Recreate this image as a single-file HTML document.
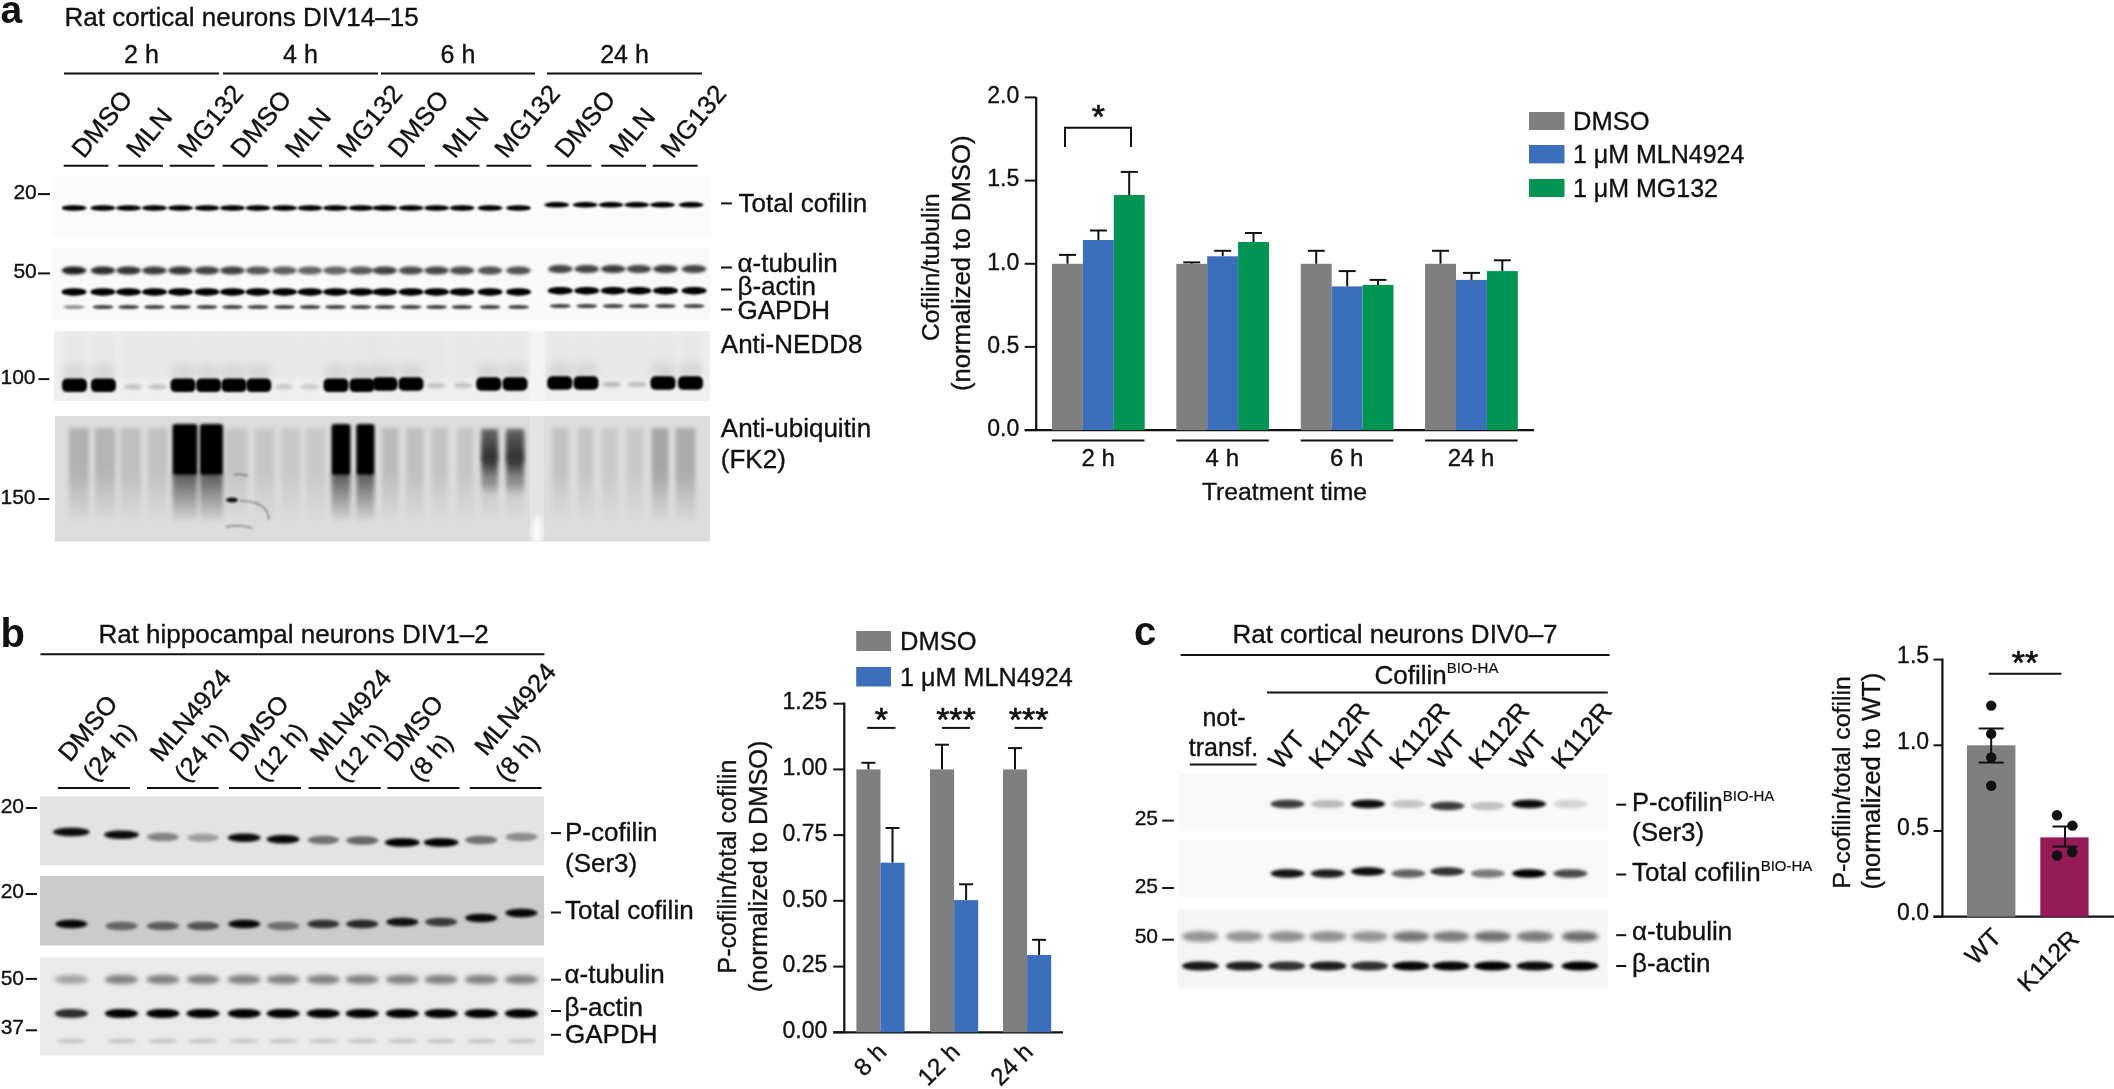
<!DOCTYPE html>
<html><head><meta charset="utf-8"><title>figure</title><style>
html,body{margin:0;padding:0;background:#fff;overflow:hidden;}
svg{display:block;font-family:"Liberation Sans", sans-serif;will-change:transform;}
</style></head><body>
<svg width="2114" height="1089" viewBox="0 0 2114 1089">
<defs><filter id="f8" x="-50%" y="-50%" width="200%" height="200%"><feGaussianBlur stdDeviation="0.8"/></filter><filter id="f10" x="-50%" y="-50%" width="200%" height="200%"><feGaussianBlur stdDeviation="1.0"/></filter><filter id="f12" x="-50%" y="-50%" width="200%" height="200%"><feGaussianBlur stdDeviation="1.2"/></filter><filter id="f13" x="-50%" y="-50%" width="200%" height="200%"><feGaussianBlur stdDeviation="1.3"/></filter><filter id="f14" x="-50%" y="-50%" width="200%" height="200%"><feGaussianBlur stdDeviation="1.4"/></filter><filter id="f15" x="-50%" y="-50%" width="200%" height="200%"><feGaussianBlur stdDeviation="1.5"/></filter><filter id="f16" x="-50%" y="-50%" width="200%" height="200%"><feGaussianBlur stdDeviation="1.6"/></filter><filter id="f18" x="-50%" y="-50%" width="200%" height="200%"><feGaussianBlur stdDeviation="1.8"/></filter><filter id="f20" x="-50%" y="-50%" width="200%" height="200%"><feGaussianBlur stdDeviation="2.0"/></filter><filter id="f25" x="-50%" y="-50%" width="200%" height="200%"><feGaussianBlur stdDeviation="2.5"/></filter><filter id="f30" x="-50%" y="-50%" width="200%" height="200%"><feGaussianBlur stdDeviation="3.0"/></filter><filter id="f40" x="-50%" y="-50%" width="200%" height="200%"><feGaussianBlur stdDeviation="4.0"/></filter><linearGradient id="gdown" x1="0" y1="0" x2="0" y2="1"><stop offset="0" stop-color="#000" stop-opacity="1"/><stop offset="1" stop-color="#000" stop-opacity="0"/></linearGradient><linearGradient id="gup" x1="0" y1="0" x2="0" y2="1"><stop offset="0" stop-color="#000" stop-opacity="0"/><stop offset="1" stop-color="#000" stop-opacity="1"/></linearGradient></defs>
<text x="0.6" y="23.2" font-size="39" text-anchor="start" font-weight="bold" fill="#111">a</text>
<text x="64.5" y="25.5" font-size="26" text-anchor="start" font-weight="normal" fill="#111" stroke="#111" stroke-width="0.35">Rat cortical neurons DIV14–15</text>
<text x="141.5" y="63.0" font-size="25" text-anchor="middle" font-weight="normal" fill="#111" stroke="#111" stroke-width="0.35">2 h</text>
<line x1="64.0" y1="73.5" x2="219.0" y2="73.5" stroke="#111" stroke-width="2"/>
<text x="300.5" y="63.0" font-size="25" text-anchor="middle" font-weight="normal" fill="#111" stroke="#111" stroke-width="0.35">4 h</text>
<line x1="223.0" y1="73.5" x2="378.0" y2="73.5" stroke="#111" stroke-width="2"/>
<text x="458.0" y="63.0" font-size="25" text-anchor="middle" font-weight="normal" fill="#111" stroke="#111" stroke-width="0.35">6 h</text>
<line x1="381.0" y1="73.5" x2="535.0" y2="73.5" stroke="#111" stroke-width="2"/>
<text x="624.5" y="63.0" font-size="25" text-anchor="middle" font-weight="normal" fill="#111" stroke="#111" stroke-width="0.35">24 h</text>
<line x1="547.0" y1="73.5" x2="702.0" y2="73.5" stroke="#111" stroke-width="2"/>
<line x1="63.7" y1="165.8" x2="108.5" y2="165.8" stroke="#111" stroke-width="2.1"/>
<text x="83.7" y="159.5" font-size="26" text-anchor="start" font-weight="normal" fill="#111" stroke="#111" stroke-width="0.35" transform="rotate(-50 83.7 159.5)">DMSO</text>
<line x1="118.3" y1="165.8" x2="163.0" y2="165.8" stroke="#111" stroke-width="2.1"/>
<text x="138.3" y="159.5" font-size="26" text-anchor="start" font-weight="normal" fill="#111" stroke="#111" stroke-width="0.35" transform="rotate(-50 138.3 159.5)">MLN</text>
<line x1="169.8" y1="165.8" x2="214.6" y2="165.8" stroke="#111" stroke-width="2.1"/>
<text x="189.8" y="159.5" font-size="26" text-anchor="start" font-weight="normal" fill="#111" stroke="#111" stroke-width="0.35" transform="rotate(-50 189.8 159.5)">MG132</text>
<line x1="222.6" y1="165.8" x2="267.8" y2="165.8" stroke="#111" stroke-width="2.1"/>
<text x="242.6" y="159.5" font-size="26" text-anchor="start" font-weight="normal" fill="#111" stroke="#111" stroke-width="0.35" transform="rotate(-50 242.6 159.5)">DMSO</text>
<line x1="277.0" y1="165.8" x2="322.0" y2="165.8" stroke="#111" stroke-width="2.1"/>
<text x="297.0" y="159.5" font-size="26" text-anchor="start" font-weight="normal" fill="#111" stroke="#111" stroke-width="0.35" transform="rotate(-50 297.0 159.5)">MLN</text>
<line x1="329.0" y1="165.8" x2="373.8" y2="165.8" stroke="#111" stroke-width="2.1"/>
<text x="349.0" y="159.5" font-size="26" text-anchor="start" font-weight="normal" fill="#111" stroke="#111" stroke-width="0.35" transform="rotate(-50 349.0 159.5)">MG132</text>
<line x1="380.0" y1="165.8" x2="425.0" y2="165.8" stroke="#111" stroke-width="2.1"/>
<text x="400.0" y="159.5" font-size="26" text-anchor="start" font-weight="normal" fill="#111" stroke="#111" stroke-width="0.35" transform="rotate(-50 400.0 159.5)">DMSO</text>
<line x1="434.7" y1="165.8" x2="479.5" y2="165.8" stroke="#111" stroke-width="2.1"/>
<text x="454.7" y="159.5" font-size="26" text-anchor="start" font-weight="normal" fill="#111" stroke="#111" stroke-width="0.35" transform="rotate(-50 454.7 159.5)">MLN</text>
<line x1="486.5" y1="165.8" x2="531.3" y2="165.8" stroke="#111" stroke-width="2.1"/>
<text x="506.5" y="159.5" font-size="26" text-anchor="start" font-weight="normal" fill="#111" stroke="#111" stroke-width="0.35" transform="rotate(-50 506.5 159.5)">MG132</text>
<line x1="546.7" y1="165.8" x2="591.5" y2="165.8" stroke="#111" stroke-width="2.1"/>
<text x="566.7" y="159.5" font-size="26" text-anchor="start" font-weight="normal" fill="#111" stroke="#111" stroke-width="0.35" transform="rotate(-50 566.7 159.5)">DMSO</text>
<line x1="601.3" y1="165.8" x2="646.0" y2="165.8" stroke="#111" stroke-width="2.1"/>
<text x="621.3" y="159.5" font-size="26" text-anchor="start" font-weight="normal" fill="#111" stroke="#111" stroke-width="0.35" transform="rotate(-50 621.3 159.5)">MLN</text>
<line x1="652.8" y1="165.8" x2="697.6" y2="165.8" stroke="#111" stroke-width="2.1"/>
<text x="672.8" y="159.5" font-size="26" text-anchor="start" font-weight="normal" fill="#111" stroke="#111" stroke-width="0.35" transform="rotate(-50 672.8 159.5)">MG132</text>
<rect x="52.0" y="176.0" width="658.0" height="61.5" fill="#fbfbfb"/>
<rect x="61.4" y="205.2" width="25.3" height="5.5" rx="11.5" ry="2.8" fill="#000" fill-opacity="1.000" filter="url(#f13)"/>
<rect x="90.3" y="205.2" width="25.3" height="5.5" rx="11.5" ry="2.8" fill="#000" fill-opacity="1.000" filter="url(#f13)"/>
<rect x="115.9" y="205.2" width="25.3" height="5.5" rx="11.5" ry="2.8" fill="#000" fill-opacity="1.000" filter="url(#f13)"/>
<rect x="141.8" y="205.2" width="25.3" height="5.5" rx="11.5" ry="2.8" fill="#000" fill-opacity="1.000" filter="url(#f13)"/>
<rect x="167.8" y="205.2" width="25.3" height="5.5" rx="11.5" ry="2.8" fill="#000" fill-opacity="1.000" filter="url(#f13)"/>
<rect x="194.3" y="205.2" width="25.3" height="5.5" rx="11.5" ry="2.8" fill="#000" fill-opacity="1.000" filter="url(#f13)"/>
<rect x="219.8" y="205.2" width="25.3" height="5.5" rx="11.5" ry="2.8" fill="#000" fill-opacity="1.000" filter="url(#f13)"/>
<rect x="245.3" y="205.2" width="25.3" height="5.5" rx="11.5" ry="2.8" fill="#000" fill-opacity="1.000" filter="url(#f13)"/>
<rect x="271.8" y="205.2" width="25.3" height="5.5" rx="11.5" ry="2.8" fill="#000" fill-opacity="1.000" filter="url(#f13)"/>
<rect x="297.4" y="205.2" width="25.3" height="5.5" rx="11.5" ry="2.8" fill="#000" fill-opacity="1.000" filter="url(#f13)"/>
<rect x="322.9" y="205.2" width="25.3" height="5.5" rx="11.5" ry="2.8" fill="#000" fill-opacity="1.000" filter="url(#f13)"/>
<rect x="348.4" y="205.2" width="25.3" height="5.5" rx="11.5" ry="2.8" fill="#000" fill-opacity="1.000" filter="url(#f13)"/>
<rect x="372.2" y="205.2" width="25.3" height="5.5" rx="11.5" ry="2.8" fill="#000" fill-opacity="1.000" filter="url(#f13)"/>
<rect x="398.4" y="205.2" width="25.3" height="5.5" rx="11.5" ry="2.8" fill="#000" fill-opacity="1.000" filter="url(#f13)"/>
<rect x="423.9" y="205.2" width="25.3" height="5.5" rx="11.5" ry="2.8" fill="#000" fill-opacity="1.000" filter="url(#f13)"/>
<rect x="449.4" y="205.2" width="25.3" height="5.5" rx="11.5" ry="2.8" fill="#000" fill-opacity="1.000" filter="url(#f13)"/>
<rect x="477.4" y="205.2" width="25.3" height="5.5" rx="11.5" ry="2.8" fill="#000" fill-opacity="1.000" filter="url(#f13)"/>
<rect x="505.9" y="205.2" width="25.3" height="5.5" rx="11.5" ry="2.8" fill="#000" fill-opacity="1.000" filter="url(#f13)"/>
<rect x="544.1" y="202.1" width="25.3" height="5.5" rx="11.5" ry="2.8" fill="#000" fill-opacity="1.000" filter="url(#f13)"/>
<rect x="572.6" y="202.1" width="25.3" height="5.5" rx="11.5" ry="2.8" fill="#000" fill-opacity="1.000" filter="url(#f13)"/>
<rect x="598.4" y="202.1" width="25.3" height="5.5" rx="11.5" ry="2.8" fill="#000" fill-opacity="1.000" filter="url(#f13)"/>
<rect x="624.1" y="202.1" width="25.3" height="5.5" rx="11.5" ry="2.8" fill="#000" fill-opacity="1.000" filter="url(#f13)"/>
<rect x="649.8" y="202.1" width="25.3" height="5.5" rx="11.5" ry="2.8" fill="#000" fill-opacity="1.000" filter="url(#f13)"/>
<rect x="678.4" y="202.1" width="25.3" height="5.5" rx="11.5" ry="2.8" fill="#000" fill-opacity="1.000" filter="url(#f13)"/>
<rect x="52.0" y="248.0" width="658.0" height="72.0" fill="#f9f9f9"/>
<rect x="61.6" y="266.5" width="24.8" height="8.0" rx="11.3" ry="4.0" fill="#000" fill-opacity="0.880" filter="url(#f14)"/>
<rect x="61.4" y="288.2" width="25.3" height="7.5" rx="11.5" ry="3.8" fill="#000" fill-opacity="1.000" filter="url(#f12)"/>
<rect x="63.4" y="305.0" width="21.2" height="4.0" rx="9.6" ry="2.0" fill="#000" fill-opacity="0.400" filter="url(#f10)"/>
<rect x="90.6" y="266.5" width="24.8" height="8.0" rx="11.3" ry="4.0" fill="#000" fill-opacity="0.820" filter="url(#f14)"/>
<rect x="90.3" y="288.2" width="25.3" height="7.5" rx="11.5" ry="3.8" fill="#000" fill-opacity="1.000" filter="url(#f12)"/>
<rect x="92.4" y="305.0" width="21.2" height="4.0" rx="9.6" ry="2.0" fill="#000" fill-opacity="0.720" filter="url(#f10)"/>
<rect x="116.2" y="266.5" width="24.8" height="8.0" rx="11.3" ry="4.0" fill="#000" fill-opacity="0.800" filter="url(#f14)"/>
<rect x="115.9" y="288.2" width="25.3" height="7.5" rx="11.5" ry="3.8" fill="#000" fill-opacity="1.000" filter="url(#f12)"/>
<rect x="118.0" y="305.0" width="21.2" height="4.0" rx="9.6" ry="2.0" fill="#000" fill-opacity="0.720" filter="url(#f10)"/>
<rect x="142.0" y="266.5" width="24.8" height="8.0" rx="11.3" ry="4.0" fill="#000" fill-opacity="0.760" filter="url(#f14)"/>
<rect x="141.8" y="288.2" width="25.3" height="7.5" rx="11.5" ry="3.8" fill="#000" fill-opacity="1.000" filter="url(#f12)"/>
<rect x="143.8" y="305.0" width="21.2" height="4.0" rx="9.6" ry="2.0" fill="#000" fill-opacity="0.720" filter="url(#f10)"/>
<rect x="168.1" y="266.5" width="24.8" height="8.0" rx="11.3" ry="4.0" fill="#000" fill-opacity="0.780" filter="url(#f14)"/>
<rect x="167.8" y="288.2" width="25.3" height="7.5" rx="11.5" ry="3.8" fill="#000" fill-opacity="1.000" filter="url(#f12)"/>
<rect x="169.9" y="305.0" width="21.2" height="4.0" rx="9.6" ry="2.0" fill="#000" fill-opacity="0.720" filter="url(#f10)"/>
<rect x="194.6" y="266.5" width="24.8" height="8.0" rx="11.3" ry="4.0" fill="#000" fill-opacity="0.740" filter="url(#f14)"/>
<rect x="194.3" y="288.2" width="25.3" height="7.5" rx="11.5" ry="3.8" fill="#000" fill-opacity="1.000" filter="url(#f12)"/>
<rect x="196.4" y="305.0" width="21.2" height="4.0" rx="9.6" ry="2.0" fill="#000" fill-opacity="0.720" filter="url(#f10)"/>
<rect x="220.0" y="266.5" width="24.8" height="8.0" rx="11.3" ry="4.0" fill="#000" fill-opacity="0.740" filter="url(#f14)"/>
<rect x="219.8" y="288.2" width="25.3" height="7.5" rx="11.5" ry="3.8" fill="#000" fill-opacity="1.000" filter="url(#f12)"/>
<rect x="221.8" y="305.0" width="21.2" height="4.0" rx="9.6" ry="2.0" fill="#000" fill-opacity="0.720" filter="url(#f10)"/>
<rect x="245.6" y="266.5" width="24.8" height="8.0" rx="11.3" ry="4.0" fill="#000" fill-opacity="0.660" filter="url(#f14)"/>
<rect x="245.3" y="288.2" width="25.3" height="7.5" rx="11.5" ry="3.8" fill="#000" fill-opacity="1.000" filter="url(#f12)"/>
<rect x="247.4" y="305.0" width="21.2" height="4.0" rx="9.6" ry="2.0" fill="#000" fill-opacity="0.720" filter="url(#f10)"/>
<rect x="272.0" y="266.5" width="24.8" height="8.0" rx="11.3" ry="4.0" fill="#000" fill-opacity="0.630" filter="url(#f14)"/>
<rect x="271.8" y="288.2" width="25.3" height="7.5" rx="11.5" ry="3.8" fill="#000" fill-opacity="1.000" filter="url(#f12)"/>
<rect x="273.8" y="305.0" width="21.2" height="4.0" rx="9.6" ry="2.0" fill="#000" fill-opacity="0.720" filter="url(#f10)"/>
<rect x="297.6" y="266.5" width="24.8" height="8.0" rx="11.3" ry="4.0" fill="#000" fill-opacity="0.600" filter="url(#f14)"/>
<rect x="297.4" y="288.2" width="25.3" height="7.5" rx="11.5" ry="3.8" fill="#000" fill-opacity="1.000" filter="url(#f12)"/>
<rect x="299.4" y="305.0" width="21.2" height="4.0" rx="9.6" ry="2.0" fill="#000" fill-opacity="0.720" filter="url(#f10)"/>
<rect x="323.1" y="266.5" width="24.8" height="8.0" rx="11.3" ry="4.0" fill="#000" fill-opacity="0.600" filter="url(#f14)"/>
<rect x="322.9" y="288.2" width="25.3" height="7.5" rx="11.5" ry="3.8" fill="#000" fill-opacity="1.000" filter="url(#f12)"/>
<rect x="324.9" y="305.0" width="21.2" height="4.0" rx="9.6" ry="2.0" fill="#000" fill-opacity="0.720" filter="url(#f10)"/>
<rect x="348.6" y="266.5" width="24.8" height="8.0" rx="11.3" ry="4.0" fill="#000" fill-opacity="0.650" filter="url(#f14)"/>
<rect x="348.4" y="288.2" width="25.3" height="7.5" rx="11.5" ry="3.8" fill="#000" fill-opacity="1.000" filter="url(#f12)"/>
<rect x="350.4" y="305.0" width="21.2" height="4.0" rx="9.6" ry="2.0" fill="#000" fill-opacity="0.720" filter="url(#f10)"/>
<rect x="372.4" y="266.5" width="24.8" height="8.0" rx="11.3" ry="4.0" fill="#000" fill-opacity="0.740" filter="url(#f14)"/>
<rect x="372.2" y="288.2" width="25.3" height="7.5" rx="11.5" ry="3.8" fill="#000" fill-opacity="1.000" filter="url(#f12)"/>
<rect x="374.2" y="305.0" width="21.2" height="4.0" rx="9.6" ry="2.0" fill="#000" fill-opacity="0.720" filter="url(#f10)"/>
<rect x="398.6" y="266.5" width="24.8" height="8.0" rx="11.3" ry="4.0" fill="#000" fill-opacity="0.700" filter="url(#f14)"/>
<rect x="398.4" y="288.2" width="25.3" height="7.5" rx="11.5" ry="3.8" fill="#000" fill-opacity="1.000" filter="url(#f12)"/>
<rect x="400.4" y="305.0" width="21.2" height="4.0" rx="9.6" ry="2.0" fill="#000" fill-opacity="0.720" filter="url(#f10)"/>
<rect x="424.1" y="266.5" width="24.8" height="8.0" rx="11.3" ry="4.0" fill="#000" fill-opacity="0.720" filter="url(#f14)"/>
<rect x="423.9" y="288.2" width="25.3" height="7.5" rx="11.5" ry="3.8" fill="#000" fill-opacity="1.000" filter="url(#f12)"/>
<rect x="425.9" y="305.0" width="21.2" height="4.0" rx="9.6" ry="2.0" fill="#000" fill-opacity="0.720" filter="url(#f10)"/>
<rect x="449.6" y="266.5" width="24.8" height="8.0" rx="11.3" ry="4.0" fill="#000" fill-opacity="0.700" filter="url(#f14)"/>
<rect x="449.4" y="288.2" width="25.3" height="7.5" rx="11.5" ry="3.8" fill="#000" fill-opacity="1.000" filter="url(#f12)"/>
<rect x="451.4" y="305.0" width="21.2" height="4.0" rx="9.6" ry="2.0" fill="#000" fill-opacity="0.720" filter="url(#f10)"/>
<rect x="477.6" y="266.5" width="24.8" height="8.0" rx="11.3" ry="4.0" fill="#000" fill-opacity="0.680" filter="url(#f14)"/>
<rect x="477.4" y="288.2" width="25.3" height="7.5" rx="11.5" ry="3.8" fill="#000" fill-opacity="1.000" filter="url(#f12)"/>
<rect x="479.4" y="305.0" width="21.2" height="4.0" rx="9.6" ry="2.0" fill="#000" fill-opacity="0.720" filter="url(#f10)"/>
<rect x="506.1" y="266.5" width="24.8" height="8.0" rx="11.3" ry="4.0" fill="#000" fill-opacity="0.680" filter="url(#f14)"/>
<rect x="505.9" y="288.2" width="25.3" height="7.5" rx="11.5" ry="3.8" fill="#000" fill-opacity="1.000" filter="url(#f12)"/>
<rect x="507.9" y="305.0" width="21.2" height="4.0" rx="9.6" ry="2.0" fill="#000" fill-opacity="0.720" filter="url(#f10)"/>
<rect x="547.9" y="265.0" width="24.8" height="8.0" rx="11.3" ry="4.0" fill="#000" fill-opacity="0.720" filter="url(#f14)"/>
<rect x="547.6" y="286.9" width="25.3" height="7.5" rx="11.5" ry="3.8" fill="#000" fill-opacity="1.000" filter="url(#f12)"/>
<rect x="549.7" y="304.0" width="21.2" height="4.0" rx="9.6" ry="2.0" fill="#000" fill-opacity="0.720" filter="url(#f10)"/>
<rect x="574.4" y="265.0" width="24.8" height="8.0" rx="11.3" ry="4.0" fill="#000" fill-opacity="0.720" filter="url(#f14)"/>
<rect x="574.1" y="286.9" width="25.3" height="7.5" rx="11.5" ry="3.8" fill="#000" fill-opacity="1.000" filter="url(#f12)"/>
<rect x="576.2" y="304.0" width="21.2" height="4.0" rx="9.6" ry="2.0" fill="#000" fill-opacity="0.720" filter="url(#f10)"/>
<rect x="600.8" y="265.0" width="24.8" height="8.0" rx="11.3" ry="4.0" fill="#000" fill-opacity="0.750" filter="url(#f14)"/>
<rect x="600.6" y="286.9" width="25.3" height="7.5" rx="11.5" ry="3.8" fill="#000" fill-opacity="1.000" filter="url(#f12)"/>
<rect x="602.6" y="304.0" width="21.2" height="4.0" rx="9.6" ry="2.0" fill="#000" fill-opacity="0.720" filter="url(#f10)"/>
<rect x="626.5" y="265.0" width="24.8" height="8.0" rx="11.3" ry="4.0" fill="#000" fill-opacity="0.720" filter="url(#f14)"/>
<rect x="626.2" y="286.9" width="25.3" height="7.5" rx="11.5" ry="3.8" fill="#000" fill-opacity="1.000" filter="url(#f12)"/>
<rect x="628.3" y="304.0" width="21.2" height="4.0" rx="9.6" ry="2.0" fill="#000" fill-opacity="0.720" filter="url(#f10)"/>
<rect x="653.0" y="265.0" width="24.8" height="8.0" rx="11.3" ry="4.0" fill="#000" fill-opacity="0.750" filter="url(#f14)"/>
<rect x="652.8" y="286.9" width="25.3" height="7.5" rx="11.5" ry="3.8" fill="#000" fill-opacity="1.000" filter="url(#f12)"/>
<rect x="654.8" y="304.0" width="21.2" height="4.0" rx="9.6" ry="2.0" fill="#000" fill-opacity="0.720" filter="url(#f10)"/>
<rect x="681.6" y="265.0" width="24.8" height="8.0" rx="11.3" ry="4.0" fill="#000" fill-opacity="0.720" filter="url(#f14)"/>
<rect x="681.4" y="286.9" width="25.3" height="7.5" rx="11.5" ry="3.8" fill="#000" fill-opacity="1.000" filter="url(#f12)"/>
<rect x="683.4" y="304.0" width="21.2" height="4.0" rx="9.6" ry="2.0" fill="#000" fill-opacity="0.720" filter="url(#f10)"/>
<rect x="54.0" y="331.0" width="656.0" height="70.0" fill="#efefef"/>
<rect x="530.0" y="331.0" width="15.0" height="70.0" fill="#f4f4f4"/>
<rect x="62.5" y="334" width="24" height="45" fill="#000" fill-opacity="0.035" filter="url(#f30)"/>
<rect x="91.4" y="334" width="24" height="45" fill="#000" fill-opacity="0.035" filter="url(#f30)"/>
<rect x="121.0" y="334" width="24" height="45" fill="#000" fill-opacity="0.035" filter="url(#f30)"/>
<rect x="145.5" y="334" width="24" height="45" fill="#000" fill-opacity="0.035" filter="url(#f30)"/>
<rect x="171.0" y="334" width="24" height="45" fill="#000" fill-opacity="0.035" filter="url(#f30)"/>
<rect x="196.6" y="334" width="24" height="45" fill="#000" fill-opacity="0.035" filter="url(#f30)"/>
<rect x="222.0" y="334" width="24" height="45" fill="#000" fill-opacity="0.035" filter="url(#f30)"/>
<rect x="246.8" y="334" width="24" height="45" fill="#000" fill-opacity="0.035" filter="url(#f30)"/>
<rect x="272.0" y="334" width="24" height="45" fill="#000" fill-opacity="0.035" filter="url(#f30)"/>
<rect x="298.0" y="334" width="24" height="45" fill="#000" fill-opacity="0.035" filter="url(#f30)"/>
<rect x="324.0" y="334" width="24" height="45" fill="#000" fill-opacity="0.035" filter="url(#f30)"/>
<rect x="350.0" y="334" width="24" height="45" fill="#000" fill-opacity="0.035" filter="url(#f30)"/>
<rect x="373.0" y="334" width="24" height="45" fill="#000" fill-opacity="0.035" filter="url(#f30)"/>
<rect x="399.0" y="334" width="24" height="45" fill="#000" fill-opacity="0.035" filter="url(#f30)"/>
<rect x="424.0" y="334" width="24" height="45" fill="#000" fill-opacity="0.035" filter="url(#f30)"/>
<rect x="450.7" y="334" width="24" height="45" fill="#000" fill-opacity="0.035" filter="url(#f30)"/>
<rect x="476.7" y="334" width="24" height="45" fill="#000" fill-opacity="0.035" filter="url(#f30)"/>
<rect x="503.0" y="334" width="24" height="45" fill="#000" fill-opacity="0.035" filter="url(#f30)"/>
<rect x="547.8" y="334" width="24" height="45" fill="#000" fill-opacity="0.035" filter="url(#f30)"/>
<rect x="574.0" y="334" width="24" height="45" fill="#000" fill-opacity="0.035" filter="url(#f30)"/>
<rect x="599.7" y="334" width="24" height="45" fill="#000" fill-opacity="0.035" filter="url(#f30)"/>
<rect x="625.0" y="334" width="24" height="45" fill="#000" fill-opacity="0.035" filter="url(#f30)"/>
<rect x="651.0" y="334" width="24" height="45" fill="#000" fill-opacity="0.035" filter="url(#f30)"/>
<rect x="678.5" y="334" width="24" height="45" fill="#000" fill-opacity="0.035" filter="url(#f30)"/>
<rect x="63.5" y="365.3" width="22" height="14" fill="#000" fill-opacity="0.08" filter="url(#f40)"/>
<rect x="62.0" y="378.5" width="25" height="13.6" rx="5" fill="#000" filter="url(#f12)"/>
<rect x="92.4" y="365.3" width="22" height="14" fill="#000" fill-opacity="0.08" filter="url(#f40)"/>
<rect x="90.9" y="378.5" width="25" height="13.6" rx="5" fill="#000" filter="url(#f12)"/>
<rect x="123.3" y="384.1" width="19.3" height="5.5" rx="8.8" ry="2.8" fill="#000" fill-opacity="0.180" filter="url(#f18)"/>
<rect x="147.8" y="384.1" width="19.3" height="5.5" rx="8.8" ry="2.8" fill="#000" fill-opacity="0.180" filter="url(#f18)"/>
<rect x="172.0" y="365.3" width="22" height="14" fill="#000" fill-opacity="0.08" filter="url(#f40)"/>
<rect x="170.5" y="378.5" width="25" height="13.6" rx="5" fill="#000" filter="url(#f12)"/>
<rect x="197.6" y="365.3" width="22" height="14" fill="#000" fill-opacity="0.08" filter="url(#f40)"/>
<rect x="196.1" y="378.5" width="25" height="13.6" rx="5" fill="#000" filter="url(#f12)"/>
<rect x="223.0" y="365.3" width="22" height="14" fill="#000" fill-opacity="0.08" filter="url(#f40)"/>
<rect x="221.5" y="378.5" width="25" height="13.6" rx="5" fill="#000" filter="url(#f12)"/>
<rect x="247.8" y="365.3" width="22" height="14" fill="#000" fill-opacity="0.08" filter="url(#f40)"/>
<rect x="246.3" y="378.5" width="25" height="13.6" rx="5" fill="#000" filter="url(#f12)"/>
<rect x="274.3" y="384.1" width="19.3" height="5.5" rx="8.8" ry="2.8" fill="#000" fill-opacity="0.150" filter="url(#f18)"/>
<rect x="300.3" y="384.1" width="19.3" height="5.5" rx="8.8" ry="2.8" fill="#000" fill-opacity="0.150" filter="url(#f18)"/>
<rect x="325.0" y="365.3" width="22" height="14" fill="#000" fill-opacity="0.08" filter="url(#f40)"/>
<rect x="323.5" y="378.5" width="25" height="13.6" rx="5" fill="#000" filter="url(#f12)"/>
<rect x="351.0" y="365.3" width="22" height="14" fill="#000" fill-opacity="0.08" filter="url(#f40)"/>
<rect x="349.5" y="378.5" width="25" height="13.6" rx="5" fill="#000" filter="url(#f12)"/>
<rect x="374.0" y="364.0" width="22" height="14" fill="#000" fill-opacity="0.08" filter="url(#f40)"/>
<rect x="372.5" y="377.2" width="25" height="13.6" rx="5" fill="#000" filter="url(#f12)"/>
<rect x="400.0" y="364.0" width="22" height="14" fill="#000" fill-opacity="0.08" filter="url(#f40)"/>
<rect x="398.5" y="377.2" width="25" height="13.6" rx="5" fill="#000" filter="url(#f12)"/>
<rect x="426.3" y="382.8" width="19.3" height="5.5" rx="8.8" ry="2.8" fill="#000" fill-opacity="0.180" filter="url(#f18)"/>
<rect x="453.0" y="382.8" width="19.3" height="5.5" rx="8.8" ry="2.8" fill="#000" fill-opacity="0.180" filter="url(#f18)"/>
<rect x="477.7" y="364.0" width="22" height="14" fill="#000" fill-opacity="0.08" filter="url(#f40)"/>
<rect x="476.2" y="377.2" width="25" height="13.6" rx="5" fill="#000" filter="url(#f12)"/>
<rect x="504.0" y="364.0" width="22" height="14" fill="#000" fill-opacity="0.08" filter="url(#f40)"/>
<rect x="502.5" y="377.2" width="25" height="13.6" rx="5" fill="#000" filter="url(#f12)"/>
<rect x="548.8" y="363.0" width="22" height="14" fill="#000" fill-opacity="0.08" filter="url(#f40)"/>
<rect x="547.3" y="376.2" width="25" height="13.6" rx="5" fill="#000" filter="url(#f12)"/>
<rect x="575.0" y="363.0" width="22" height="14" fill="#000" fill-opacity="0.08" filter="url(#f40)"/>
<rect x="573.5" y="376.2" width="25" height="13.6" rx="5" fill="#000" filter="url(#f12)"/>
<rect x="602.0" y="381.8" width="19.3" height="5.5" rx="8.8" ry="2.8" fill="#000" fill-opacity="0.220" filter="url(#f18)"/>
<rect x="627.3" y="381.8" width="19.3" height="5.5" rx="8.8" ry="2.8" fill="#000" fill-opacity="0.200" filter="url(#f18)"/>
<rect x="652.0" y="363.0" width="22" height="14" fill="#000" fill-opacity="0.08" filter="url(#f40)"/>
<rect x="650.5" y="376.2" width="25" height="13.6" rx="5" fill="#000" filter="url(#f12)"/>
<rect x="679.5" y="363.0" width="22" height="14" fill="#000" fill-opacity="0.08" filter="url(#f40)"/>
<rect x="678.0" y="376.2" width="25" height="13.6" rx="5" fill="#000" filter="url(#f12)"/>
<rect x="55.0" y="416.0" width="655.0" height="125.5" fill="#dcdcdc"/>
<rect x="530.0" y="416.0" width="14.0" height="125.5" fill="#e4e4e4"/>
<ellipse cx="537" cy="530" rx="5" ry="14" fill="#fff" opacity="0.8" filter="url(#f20)"/>
<rect x="69.0" y="428" width="20.0" height="45" fill="#000" fill-opacity="0.195" filter="url(#f20)"/>
<rect x="69.0" y="473" width="20.0" height="50" fill="url(#gdown)" fill-opacity="0.195" filter="url(#f20)"/>
<rect x="94.7" y="428" width="20.7" height="45" fill="#000" fill-opacity="0.180" filter="url(#f20)"/>
<rect x="94.7" y="473" width="20.7" height="50" fill="url(#gdown)" fill-opacity="0.180" filter="url(#f20)"/>
<rect x="120.4" y="428" width="20.6" height="45" fill="#000" fill-opacity="0.135" filter="url(#f20)"/>
<rect x="120.4" y="473" width="20.6" height="50" fill="url(#gdown)" fill-opacity="0.135" filter="url(#f20)"/>
<rect x="147.7" y="428" width="19.8" height="45" fill="#000" fill-opacity="0.120" filter="url(#f20)"/>
<rect x="147.7" y="473" width="19.8" height="50" fill="url(#gdown)" fill-opacity="0.120" filter="url(#f20)"/>
<rect x="172.5" y="424" width="24.9" height="51" rx="3" fill="#000" filter="url(#f14)"/>
<rect x="172.5" y="473" width="24.9" height="50" fill="url(#gdown)" fill-opacity="0.6" filter="url(#f20)"/>
<rect x="199.8" y="424" width="23.2" height="51" rx="3" fill="#000" filter="url(#f14)"/>
<rect x="199.8" y="473" width="23.2" height="50" fill="url(#gdown)" fill-opacity="0.6" filter="url(#f20)"/>
<rect x="225.5" y="428" width="22.3" height="45" fill="#000" fill-opacity="0.105" filter="url(#f20)"/>
<rect x="225.5" y="473" width="22.3" height="50" fill="url(#gdown)" fill-opacity="0.105" filter="url(#f20)"/>
<rect x="254.5" y="428" width="19.8" height="45" fill="#000" fill-opacity="0.098" filter="url(#f20)"/>
<rect x="254.5" y="473" width="19.8" height="50" fill="url(#gdown)" fill-opacity="0.098" filter="url(#f20)"/>
<rect x="281.0" y="428" width="19.0" height="45" fill="#000" fill-opacity="0.090" filter="url(#f20)"/>
<rect x="281.0" y="473" width="19.0" height="50" fill="url(#gdown)" fill-opacity="0.090" filter="url(#f20)"/>
<rect x="305.8" y="428" width="19.9" height="45" fill="#000" fill-opacity="0.090" filter="url(#f20)"/>
<rect x="305.8" y="473" width="19.9" height="50" fill="url(#gdown)" fill-opacity="0.090" filter="url(#f20)"/>
<rect x="331.5" y="424" width="19.0" height="51" rx="3" fill="#000" filter="url(#f14)"/>
<rect x="331.5" y="473" width="19.0" height="50" fill="url(#gdown)" fill-opacity="0.6" filter="url(#f20)"/>
<rect x="356.3" y="424" width="18.2" height="51" rx="3" fill="#000" filter="url(#f14)"/>
<rect x="356.3" y="473" width="18.2" height="50" fill="url(#gdown)" fill-opacity="0.6" filter="url(#f20)"/>
<rect x="381.6" y="428" width="17.4" height="45" fill="#000" fill-opacity="0.150" filter="url(#f20)"/>
<rect x="381.6" y="473" width="17.4" height="50" fill="url(#gdown)" fill-opacity="0.150" filter="url(#f20)"/>
<rect x="406.0" y="428" width="17.6" height="45" fill="#000" fill-opacity="0.135" filter="url(#f20)"/>
<rect x="406.0" y="473" width="17.6" height="50" fill="url(#gdown)" fill-opacity="0.135" filter="url(#f20)"/>
<rect x="431.5" y="428" width="16.5" height="45" fill="#000" fill-opacity="0.112" filter="url(#f20)"/>
<rect x="431.5" y="473" width="16.5" height="50" fill="url(#gdown)" fill-opacity="0.112" filter="url(#f20)"/>
<rect x="456.9" y="428" width="16.6" height="45" fill="#000" fill-opacity="0.105" filter="url(#f20)"/>
<rect x="456.9" y="473" width="16.6" height="50" fill="url(#gdown)" fill-opacity="0.105" filter="url(#f20)"/>
<rect x="481.4" y="429" width="16.6" height="31" fill="#000" fill-opacity="0.55" filter="url(#f20)"/>
<rect x="481.4" y="429" width="16.6" height="31" fill="url(#gup)" fill-opacity="0.55" filter="url(#f20)"/>
<rect x="481.4" y="459" width="16.6" height="36" fill="url(#gdown)" fill-opacity="0.8" filter="url(#f20)"/>
<rect x="481.4" y="480" width="16.6" height="40" fill="url(#gdown)" fill-opacity="0.12" filter="url(#f20)"/>
<rect x="506.0" y="429" width="18.2" height="31" fill="#000" fill-opacity="0.55" filter="url(#f20)"/>
<rect x="506.0" y="429" width="18.2" height="31" fill="url(#gup)" fill-opacity="0.55" filter="url(#f20)"/>
<rect x="506.0" y="459" width="18.2" height="36" fill="url(#gdown)" fill-opacity="0.8" filter="url(#f20)"/>
<rect x="506.0" y="480" width="18.2" height="40" fill="url(#gdown)" fill-opacity="0.12" filter="url(#f20)"/>
<rect x="552.0" y="428" width="16.6" height="45" fill="#000" fill-opacity="0.112" filter="url(#f20)"/>
<rect x="552.0" y="473" width="16.6" height="50" fill="url(#gdown)" fill-opacity="0.112" filter="url(#f20)"/>
<rect x="578.0" y="428" width="15.0" height="45" fill="#000" fill-opacity="0.105" filter="url(#f20)"/>
<rect x="578.0" y="473" width="15.0" height="50" fill="url(#gdown)" fill-opacity="0.105" filter="url(#f20)"/>
<rect x="601.9" y="428" width="15.8" height="45" fill="#000" fill-opacity="0.090" filter="url(#f20)"/>
<rect x="601.9" y="473" width="15.8" height="50" fill="url(#gdown)" fill-opacity="0.090" filter="url(#f20)"/>
<rect x="626.4" y="428" width="16.6" height="45" fill="#000" fill-opacity="0.090" filter="url(#f20)"/>
<rect x="626.4" y="473" width="16.6" height="50" fill="url(#gdown)" fill-opacity="0.090" filter="url(#f20)"/>
<rect x="651.8" y="428" width="16.6" height="45" fill="#000" fill-opacity="0.255" filter="url(#f20)"/>
<rect x="651.8" y="473" width="16.6" height="50" fill="url(#gdown)" fill-opacity="0.255" filter="url(#f20)"/>
<rect x="675.6" y="428" width="19.8" height="45" fill="#000" fill-opacity="0.225" filter="url(#f20)"/>
<rect x="675.6" y="473" width="19.8" height="50" fill="url(#gdown)" fill-opacity="0.225" filter="url(#f20)"/>
<path d="M234,475 q6,-2 14,1 M240,501 q10,-1 20,4 q9,5 9,15 M226,527 q12,-3 26,1" fill="none" stroke="#333" stroke-width="1.3" opacity="0.6" filter="url(#f8)"/>
<ellipse cx="232" cy="500" rx="6" ry="2.5" fill="#111" filter="url(#f8)"/>
<text x="36.8" y="198.7" font-size="21" text-anchor="end" font-weight="normal" fill="#111" stroke="#111" stroke-width="0.35">20</text>
<line x1="38.0" y1="194.1" x2="50.0" y2="194.1" stroke="#111" stroke-width="2"/>
<text x="36.8" y="277.5" font-size="21" text-anchor="end" font-weight="normal" fill="#111" stroke="#111" stroke-width="0.35">50</text>
<line x1="38.0" y1="273.4" x2="50.0" y2="273.4" stroke="#111" stroke-width="2"/>
<text x="35.5" y="384.3" font-size="21" text-anchor="end" font-weight="normal" fill="#111" stroke="#111" stroke-width="0.35">100</text>
<line x1="38.5" y1="379.1" x2="49.3" y2="379.1" stroke="#111" stroke-width="2"/>
<text x="35.5" y="504.1" font-size="21" text-anchor="end" font-weight="normal" fill="#111" stroke="#111" stroke-width="0.35">150</text>
<line x1="38.5" y1="499.0" x2="49.3" y2="499.0" stroke="#111" stroke-width="2"/>
<line x1="721.0" y1="203.4" x2="732.0" y2="203.4" stroke="#111" stroke-width="2"/>
<text x="738.5" y="212.4" font-size="26" text-anchor="start" font-weight="normal" fill="#111" stroke="#111" stroke-width="0.35">Total cofilin</text>
<line x1="721.0" y1="267.5" x2="732.0" y2="267.5" stroke="#111" stroke-width="2"/>
<text x="737.5" y="272.0" font-size="26" text-anchor="start" font-weight="normal" fill="#111" stroke="#111" stroke-width="0.35">α-tubulin</text>
<line x1="721.0" y1="289.5" x2="732.0" y2="289.5" stroke="#111" stroke-width="2"/>
<text x="737.5" y="295.0" font-size="26" text-anchor="start" font-weight="normal" fill="#111" stroke="#111" stroke-width="0.35">β-actin</text>
<line x1="721.0" y1="309.5" x2="732.0" y2="309.5" stroke="#111" stroke-width="2"/>
<text x="737.5" y="319.1" font-size="26" text-anchor="start" font-weight="normal" fill="#111" stroke="#111" stroke-width="0.35">GAPDH</text>
<text x="720.8" y="352.8" font-size="26" text-anchor="start" font-weight="normal" fill="#111" stroke="#111" stroke-width="0.35">Anti-NEDD8</text>
<text x="720.8" y="437.1" font-size="26" text-anchor="start" font-weight="normal" fill="#111" stroke="#111" stroke-width="0.35">Anti-ubiquitin</text>
<text x="720.8" y="467.5" font-size="26" text-anchor="start" font-weight="normal" fill="#111" stroke="#111" stroke-width="0.35">(FK2)</text>
<line x1="1036.2" y1="97.0" x2="1036.2" y2="431.1" stroke="#111" stroke-width="2.2"/>
<line x1="1024.7" y1="430.1" x2="1534.0" y2="430.1" stroke="#111" stroke-width="2.2"/>
<line x1="1024.7" y1="430.1" x2="1036.2" y2="430.1" stroke="#111" stroke-width="2"/>
<text x="1019.3" y="435.9" font-size="23" text-anchor="end" font-weight="normal" fill="#111" stroke="#111" stroke-width="0.35">0.0</text>
<line x1="1024.7" y1="346.9" x2="1036.2" y2="346.9" stroke="#111" stroke-width="2"/>
<text x="1019.3" y="352.7" font-size="23" text-anchor="end" font-weight="normal" fill="#111" stroke="#111" stroke-width="0.35">0.5</text>
<line x1="1024.7" y1="263.8" x2="1036.2" y2="263.8" stroke="#111" stroke-width="2"/>
<text x="1019.3" y="269.5" font-size="23" text-anchor="end" font-weight="normal" fill="#111" stroke="#111" stroke-width="0.35">1.0</text>
<line x1="1024.7" y1="180.6" x2="1036.2" y2="180.6" stroke="#111" stroke-width="2"/>
<text x="1019.3" y="186.3" font-size="23" text-anchor="end" font-weight="normal" fill="#111" stroke="#111" stroke-width="0.35">1.5</text>
<line x1="1024.7" y1="97.4" x2="1036.2" y2="97.4" stroke="#111" stroke-width="2"/>
<text x="1019.3" y="103.2" font-size="23" text-anchor="end" font-weight="normal" fill="#111" stroke="#111" stroke-width="0.35">2.0</text>
<line x1="1067.5" y1="254.9" x2="1067.5" y2="263.8" stroke="#111" stroke-width="2"/>
<line x1="1059.0" y1="254.9" x2="1076.0" y2="254.9" stroke="#111" stroke-width="2"/>
<rect x="1052.0" y="263.8" width="30.9" height="166.4" fill="#7f7f7f"/>
<line x1="1098.4" y1="230.5" x2="1098.4" y2="240.0" stroke="#111" stroke-width="2"/>
<line x1="1089.9" y1="230.5" x2="1106.9" y2="230.5" stroke="#111" stroke-width="2"/>
<rect x="1082.9" y="240.0" width="30.9" height="190.1" fill="#3c6fbb"/>
<line x1="1129.2" y1="171.9" x2="1129.2" y2="195.0" stroke="#111" stroke-width="2"/>
<line x1="1120.8" y1="171.9" x2="1137.8" y2="171.9" stroke="#111" stroke-width="2"/>
<rect x="1113.8" y="195.0" width="30.9" height="235.1" fill="#009452"/>
<line x1="1052.0" y1="440.6" x2="1144.5" y2="440.6" stroke="#111" stroke-width="2"/>
<line x1="1191.8" y1="262.4" x2="1191.8" y2="263.8" stroke="#111" stroke-width="2"/>
<line x1="1183.2" y1="262.4" x2="1200.2" y2="262.4" stroke="#111" stroke-width="2"/>
<rect x="1176.3" y="263.8" width="30.9" height="166.4" fill="#7f7f7f"/>
<line x1="1222.7" y1="250.8" x2="1222.7" y2="256.3" stroke="#111" stroke-width="2"/>
<line x1="1214.2" y1="250.8" x2="1231.2" y2="250.8" stroke="#111" stroke-width="2"/>
<rect x="1207.2" y="256.3" width="30.9" height="173.8" fill="#3c6fbb"/>
<line x1="1253.5" y1="233.0" x2="1253.5" y2="242.0" stroke="#111" stroke-width="2"/>
<line x1="1245.0" y1="233.0" x2="1262.0" y2="233.0" stroke="#111" stroke-width="2"/>
<rect x="1238.1" y="242.0" width="30.9" height="188.1" fill="#009452"/>
<line x1="1176.3" y1="440.6" x2="1268.8" y2="440.6" stroke="#111" stroke-width="2"/>
<line x1="1316.2" y1="250.8" x2="1316.2" y2="263.8" stroke="#111" stroke-width="2"/>
<line x1="1307.8" y1="250.8" x2="1324.8" y2="250.8" stroke="#111" stroke-width="2"/>
<rect x="1300.8" y="263.8" width="30.9" height="166.4" fill="#7f7f7f"/>
<line x1="1347.2" y1="271.1" x2="1347.2" y2="286.4" stroke="#111" stroke-width="2"/>
<line x1="1338.7" y1="271.1" x2="1355.7" y2="271.1" stroke="#111" stroke-width="2"/>
<rect x="1331.7" y="286.4" width="30.9" height="143.7" fill="#3c6fbb"/>
<line x1="1378.0" y1="279.9" x2="1378.0" y2="284.9" stroke="#111" stroke-width="2"/>
<line x1="1369.5" y1="279.9" x2="1386.5" y2="279.9" stroke="#111" stroke-width="2"/>
<rect x="1362.6" y="284.9" width="30.9" height="145.2" fill="#009452"/>
<line x1="1300.8" y1="440.6" x2="1393.3" y2="440.6" stroke="#111" stroke-width="2"/>
<line x1="1440.5" y1="250.8" x2="1440.5" y2="263.8" stroke="#111" stroke-width="2"/>
<line x1="1432.0" y1="250.8" x2="1449.0" y2="250.8" stroke="#111" stroke-width="2"/>
<rect x="1425.1" y="263.8" width="30.9" height="166.4" fill="#7f7f7f"/>
<line x1="1471.5" y1="272.9" x2="1471.5" y2="279.9" stroke="#111" stroke-width="2"/>
<line x1="1463.0" y1="272.9" x2="1480.0" y2="272.9" stroke="#111" stroke-width="2"/>
<rect x="1456.0" y="279.9" width="30.9" height="150.2" fill="#3c6fbb"/>
<line x1="1502.3" y1="260.3" x2="1502.3" y2="271.1" stroke="#111" stroke-width="2"/>
<line x1="1493.8" y1="260.3" x2="1510.8" y2="260.3" stroke="#111" stroke-width="2"/>
<rect x="1486.9" y="271.1" width="30.9" height="159.0" fill="#009452"/>
<line x1="1425.1" y1="440.6" x2="1517.6" y2="440.6" stroke="#111" stroke-width="2"/>
<text x="1098.2" y="466.4" font-size="24" text-anchor="middle" font-weight="normal" fill="#111" stroke="#111" stroke-width="0.35">2 h</text>
<text x="1222.3" y="466.4" font-size="24" text-anchor="middle" font-weight="normal" fill="#111" stroke="#111" stroke-width="0.35">4 h</text>
<text x="1346.6" y="466.4" font-size="24" text-anchor="middle" font-weight="normal" fill="#111" stroke="#111" stroke-width="0.35">6 h</text>
<text x="1471.0" y="466.4" font-size="24" text-anchor="middle" font-weight="normal" fill="#111" stroke="#111" stroke-width="0.35">24 h</text>
<text x="1284.5" y="500.4" font-size="24.7" text-anchor="middle" font-weight="normal" fill="#111" stroke="#111" stroke-width="0.35">Treatment time</text>
<polyline points="1065,147 1065,127.7 1131,127.7 1131,147" fill="none" stroke="#111" stroke-width="2"/>
<text x="1098.3" y="128.0" font-size="34" text-anchor="middle" font-weight="normal" fill="#111" stroke="#111" stroke-width="0.6">*</text>
<text x="939.5" y="267.2" font-size="24.6" text-anchor="middle" font-weight="normal" fill="#111" stroke="#111" stroke-width="0.35" transform="rotate(-90 939.5 267.2)">Cofilin/tubulin</text>
<text x="970.5" y="263.3" font-size="25.7" text-anchor="middle" font-weight="normal" fill="#111" stroke="#111" stroke-width="0.35" transform="rotate(-90 970.5 263.3)">(normalized to DMSO)</text>
<rect x="1529.0" y="112.0" width="35.5" height="18.0" fill="#7f7f7f"/>
<rect x="1529.0" y="145.0" width="35.5" height="18.4" fill="#3c6fbb"/>
<rect x="1529.0" y="179.0" width="35.5" height="18.0" fill="#009452"/>
<text x="1573.0" y="129.5" font-size="25.5" text-anchor="start" font-weight="normal" fill="#111" stroke="#111" stroke-width="0.35">DMSO</text>
<text x="1573.0" y="163.0" font-size="25" text-anchor="start" font-weight="normal" fill="#111" stroke="#111" stroke-width="0.35">1 μM MLN4924</text>
<text x="1573.0" y="196.5" font-size="25" text-anchor="start" font-weight="normal" fill="#111" stroke="#111" stroke-width="0.35">1 μM MG132</text>
<text x="0.5" y="646.5" font-size="40" text-anchor="start" font-weight="bold" fill="#111">b</text>
<text x="293.5" y="643.2" font-size="26" text-anchor="middle" font-weight="normal" fill="#111" stroke="#111" stroke-width="0.35">Rat hippocampal neurons DIV1–2</text>
<line x1="40.5" y1="654.3" x2="544.5" y2="654.3" stroke="#111" stroke-width="2"/>
<line x1="57.9" y1="787.9" x2="130.0" y2="787.9" stroke="#111" stroke-width="2"/>
<text x="69.9" y="763.0" font-size="25.5" text-anchor="start" font-weight="normal" fill="#111" stroke="#111" stroke-width="0.35" transform="rotate(-50 69.9 763.0)">DMSO</text>
<text x="94.5" y="783.1" font-size="25.5" text-anchor="start" font-weight="normal" fill="#111" stroke="#111" stroke-width="0.35" transform="rotate(-50 94.5 783.1)">(24 h)</text>
<line x1="147.0" y1="787.9" x2="218.6" y2="787.9" stroke="#111" stroke-width="2"/>
<text x="161.4" y="763.0" font-size="25.5" text-anchor="start" font-weight="normal" fill="#111" stroke="#111" stroke-width="0.35" transform="rotate(-50 161.4 763.0)">MLN4924</text>
<text x="186.0" y="783.6" font-size="25.5" text-anchor="start" font-weight="normal" fill="#111" stroke="#111" stroke-width="0.35" transform="rotate(-50 186.0 783.6)">(24 h)</text>
<line x1="229.0" y1="787.9" x2="301.0" y2="787.9" stroke="#111" stroke-width="2"/>
<text x="241.0" y="763.0" font-size="25.5" text-anchor="start" font-weight="normal" fill="#111" stroke="#111" stroke-width="0.35" transform="rotate(-50 241.0 763.0)">DMSO</text>
<text x="265.0" y="783.1" font-size="25.5" text-anchor="start" font-weight="normal" fill="#111" stroke="#111" stroke-width="0.35" transform="rotate(-50 265.0 783.1)">(12 h)</text>
<line x1="308.6" y1="787.9" x2="380.8" y2="787.9" stroke="#111" stroke-width="2"/>
<text x="321.6" y="763.0" font-size="25.5" text-anchor="start" font-weight="normal" fill="#111" stroke="#111" stroke-width="0.35" transform="rotate(-50 321.6 763.0)">MLN4924</text>
<text x="345.6" y="783.6" font-size="25.5" text-anchor="start" font-weight="normal" fill="#111" stroke="#111" stroke-width="0.35" transform="rotate(-50 345.6 783.6)">(12 h)</text>
<line x1="387.4" y1="787.9" x2="459.5" y2="787.9" stroke="#111" stroke-width="2"/>
<text x="395.7" y="763.0" font-size="25.5" text-anchor="start" font-weight="normal" fill="#111" stroke="#111" stroke-width="0.35" transform="rotate(-50 395.7 763.0)">DMSO</text>
<text x="420.4" y="783.1" font-size="25.5" text-anchor="start" font-weight="normal" fill="#111" stroke="#111" stroke-width="0.35" transform="rotate(-50 420.4 783.1)">(8 h)</text>
<line x1="469.7" y1="787.9" x2="541.6" y2="787.9" stroke="#111" stroke-width="2"/>
<text x="486.2" y="757.0" font-size="25.5" text-anchor="start" font-weight="normal" fill="#111" stroke="#111" stroke-width="0.35" transform="rotate(-50 486.2 757.0)">MLN4924</text>
<text x="506.7" y="783.1" font-size="25.5" text-anchor="start" font-weight="normal" fill="#111" stroke="#111" stroke-width="0.35" transform="rotate(-50 506.7 783.1)">(8 h)</text>
<rect x="40.0" y="796.3" width="504.0" height="69.0" fill="#e3e3e3"/>
<rect x="53.0" y="827.8" width="36.8" height="8.5" rx="16.7" ry="4.2" fill="#000" fill-opacity="0.950" filter="url(#f18)"/>
<rect x="104.0" y="830.5" width="35.0" height="8.5" rx="15.9" ry="4.2" fill="#000" fill-opacity="0.950" filter="url(#f18)"/>
<rect x="146.8" y="832.8" width="32.2" height="8.5" rx="14.6" ry="4.2" fill="#000" fill-opacity="0.420" filter="url(#f18)"/>
<rect x="187.4" y="833.5" width="31.3" height="8.5" rx="14.2" ry="4.2" fill="#000" fill-opacity="0.300" filter="url(#f18)"/>
<rect x="227.7" y="833.5" width="33.1" height="8.5" rx="15.1" ry="4.2" fill="#000" fill-opacity="0.950" filter="url(#f18)"/>
<rect x="266.6" y="835.0" width="33.1" height="8.5" rx="15.1" ry="4.2" fill="#000" fill-opacity="0.970" filter="url(#f18)"/>
<rect x="307.7" y="835.8" width="31.3" height="8.5" rx="14.2" ry="4.2" fill="#000" fill-opacity="0.500" filter="url(#f18)"/>
<rect x="346.1" y="836.2" width="32.2" height="8.5" rx="14.6" ry="4.2" fill="#000" fill-opacity="0.550" filter="url(#f18)"/>
<rect x="384.8" y="838.2" width="35.0" height="8.5" rx="15.9" ry="4.2" fill="#000" fill-opacity="1.000" filter="url(#f18)"/>
<rect x="423.6" y="838.2" width="35.0" height="8.5" rx="15.9" ry="4.2" fill="#000" fill-opacity="1.000" filter="url(#f18)"/>
<rect x="465.1" y="835.8" width="32.2" height="8.5" rx="14.6" ry="4.2" fill="#000" fill-opacity="0.500" filter="url(#f18)"/>
<rect x="505.3" y="832.8" width="32.2" height="8.5" rx="14.6" ry="4.2" fill="#000" fill-opacity="0.380" filter="url(#f18)"/>
<rect x="40.0" y="876.0" width="504.0" height="69.5" fill="#cbcbcb"/>
<rect x="55.3" y="919.8" width="32.2" height="8.5" rx="14.6" ry="4.2" fill="#000" fill-opacity="0.970" filter="url(#f18)"/>
<rect x="105.4" y="921.8" width="32.2" height="8.5" rx="14.6" ry="4.2" fill="#000" fill-opacity="0.500" filter="url(#f18)"/>
<rect x="146.8" y="921.8" width="32.2" height="8.5" rx="14.6" ry="4.2" fill="#000" fill-opacity="0.550" filter="url(#f18)"/>
<rect x="186.9" y="921.8" width="32.2" height="8.5" rx="14.6" ry="4.2" fill="#000" fill-opacity="0.600" filter="url(#f18)"/>
<rect x="228.2" y="919.8" width="32.2" height="8.5" rx="14.6" ry="4.2" fill="#000" fill-opacity="0.970" filter="url(#f18)"/>
<rect x="267.1" y="921.8" width="32.2" height="8.5" rx="14.6" ry="4.2" fill="#000" fill-opacity="0.450" filter="url(#f18)"/>
<rect x="307.2" y="919.8" width="32.2" height="8.5" rx="14.6" ry="4.2" fill="#000" fill-opacity="0.750" filter="url(#f18)"/>
<rect x="346.1" y="919.8" width="32.2" height="8.5" rx="14.6" ry="4.2" fill="#000" fill-opacity="0.800" filter="url(#f18)"/>
<rect x="386.2" y="917.8" width="32.2" height="8.5" rx="14.6" ry="4.2" fill="#000" fill-opacity="0.920" filter="url(#f18)"/>
<rect x="425.0" y="917.8" width="32.2" height="8.5" rx="14.6" ry="4.2" fill="#000" fill-opacity="0.720" filter="url(#f18)"/>
<rect x="465.1" y="913.8" width="32.2" height="8.5" rx="14.6" ry="4.2" fill="#000" fill-opacity="0.970" filter="url(#f18)"/>
<rect x="505.3" y="908.8" width="32.2" height="8.5" rx="14.6" ry="4.2" fill="#000" fill-opacity="0.970" filter="url(#f18)"/>
<rect x="40.0" y="957.5" width="504.0" height="98.0" fill="#eaeaea"/>
<rect x="54.8" y="975.0" width="33.1" height="9.0" rx="15.1" ry="4.5" fill="#000" fill-opacity="0.300" filter="url(#f20)"/>
<rect x="54.8" y="1009.0" width="33.1" height="9.0" rx="15.1" ry="4.5" fill="#000" fill-opacity="0.800" filter="url(#f16)"/>
<rect x="56.7" y="1038.5" width="29.4" height="5.0" rx="13.4" ry="2.5" fill="#000" fill-opacity="0.140" filter="url(#f16)"/>
<rect x="104.9" y="975.0" width="33.1" height="9.0" rx="15.1" ry="4.5" fill="#000" fill-opacity="0.450" filter="url(#f20)"/>
<rect x="104.9" y="1009.0" width="33.1" height="9.0" rx="15.1" ry="4.5" fill="#000" fill-opacity="1.000" filter="url(#f16)"/>
<rect x="106.8" y="1038.5" width="29.4" height="5.0" rx="13.4" ry="2.5" fill="#000" fill-opacity="0.140" filter="url(#f16)"/>
<rect x="146.3" y="975.0" width="33.1" height="9.0" rx="15.1" ry="4.5" fill="#000" fill-opacity="0.450" filter="url(#f20)"/>
<rect x="146.3" y="1009.0" width="33.1" height="9.0" rx="15.1" ry="4.5" fill="#000" fill-opacity="1.000" filter="url(#f16)"/>
<rect x="148.2" y="1038.5" width="29.4" height="5.0" rx="13.4" ry="2.5" fill="#000" fill-opacity="0.140" filter="url(#f16)"/>
<rect x="186.4" y="975.0" width="33.1" height="9.0" rx="15.1" ry="4.5" fill="#000" fill-opacity="0.450" filter="url(#f20)"/>
<rect x="186.4" y="1009.0" width="33.1" height="9.0" rx="15.1" ry="4.5" fill="#000" fill-opacity="1.000" filter="url(#f16)"/>
<rect x="188.3" y="1038.5" width="29.4" height="5.0" rx="13.4" ry="2.5" fill="#000" fill-opacity="0.140" filter="url(#f16)"/>
<rect x="227.7" y="975.0" width="33.1" height="9.0" rx="15.1" ry="4.5" fill="#000" fill-opacity="0.450" filter="url(#f20)"/>
<rect x="227.7" y="1009.0" width="33.1" height="9.0" rx="15.1" ry="4.5" fill="#000" fill-opacity="1.000" filter="url(#f16)"/>
<rect x="229.6" y="1038.5" width="29.4" height="5.0" rx="13.4" ry="2.5" fill="#000" fill-opacity="0.140" filter="url(#f16)"/>
<rect x="266.6" y="975.0" width="33.1" height="9.0" rx="15.1" ry="4.5" fill="#000" fill-opacity="0.450" filter="url(#f20)"/>
<rect x="266.6" y="1009.0" width="33.1" height="9.0" rx="15.1" ry="4.5" fill="#000" fill-opacity="1.000" filter="url(#f16)"/>
<rect x="268.5" y="1038.5" width="29.4" height="5.0" rx="13.4" ry="2.5" fill="#000" fill-opacity="0.140" filter="url(#f16)"/>
<rect x="306.7" y="975.0" width="33.1" height="9.0" rx="15.1" ry="4.5" fill="#000" fill-opacity="0.450" filter="url(#f20)"/>
<rect x="306.7" y="1009.0" width="33.1" height="9.0" rx="15.1" ry="4.5" fill="#000" fill-opacity="1.000" filter="url(#f16)"/>
<rect x="308.6" y="1038.5" width="29.4" height="5.0" rx="13.4" ry="2.5" fill="#000" fill-opacity="0.140" filter="url(#f16)"/>
<rect x="345.6" y="975.0" width="33.1" height="9.0" rx="15.1" ry="4.5" fill="#000" fill-opacity="0.450" filter="url(#f20)"/>
<rect x="345.6" y="1009.0" width="33.1" height="9.0" rx="15.1" ry="4.5" fill="#000" fill-opacity="1.000" filter="url(#f16)"/>
<rect x="347.5" y="1038.5" width="29.4" height="5.0" rx="13.4" ry="2.5" fill="#000" fill-opacity="0.140" filter="url(#f16)"/>
<rect x="385.7" y="975.0" width="33.1" height="9.0" rx="15.1" ry="4.5" fill="#000" fill-opacity="0.450" filter="url(#f20)"/>
<rect x="385.7" y="1009.0" width="33.1" height="9.0" rx="15.1" ry="4.5" fill="#000" fill-opacity="1.000" filter="url(#f16)"/>
<rect x="387.6" y="1038.5" width="29.4" height="5.0" rx="13.4" ry="2.5" fill="#000" fill-opacity="0.140" filter="url(#f16)"/>
<rect x="424.5" y="975.0" width="33.1" height="9.0" rx="15.1" ry="4.5" fill="#000" fill-opacity="0.450" filter="url(#f20)"/>
<rect x="424.5" y="1009.0" width="33.1" height="9.0" rx="15.1" ry="4.5" fill="#000" fill-opacity="1.000" filter="url(#f16)"/>
<rect x="426.4" y="1038.5" width="29.4" height="5.0" rx="13.4" ry="2.5" fill="#000" fill-opacity="0.140" filter="url(#f16)"/>
<rect x="464.6" y="975.0" width="33.1" height="9.0" rx="15.1" ry="4.5" fill="#000" fill-opacity="0.450" filter="url(#f20)"/>
<rect x="464.6" y="1009.0" width="33.1" height="9.0" rx="15.1" ry="4.5" fill="#000" fill-opacity="1.000" filter="url(#f16)"/>
<rect x="466.5" y="1038.5" width="29.4" height="5.0" rx="13.4" ry="2.5" fill="#000" fill-opacity="0.140" filter="url(#f16)"/>
<rect x="504.8" y="975.0" width="33.1" height="9.0" rx="15.1" ry="4.5" fill="#000" fill-opacity="0.450" filter="url(#f20)"/>
<rect x="504.8" y="1009.0" width="33.1" height="9.0" rx="15.1" ry="4.5" fill="#000" fill-opacity="1.000" filter="url(#f16)"/>
<rect x="506.7" y="1038.5" width="29.4" height="5.0" rx="13.4" ry="2.5" fill="#000" fill-opacity="0.140" filter="url(#f16)"/>
<text x="24.0" y="812.7" font-size="21" text-anchor="end" font-weight="normal" fill="#111" stroke="#111" stroke-width="0.35">20</text>
<line x1="25.8" y1="808.0" x2="37.0" y2="808.0" stroke="#111" stroke-width="2"/>
<text x="24.0" y="897.6" font-size="21" text-anchor="end" font-weight="normal" fill="#111" stroke="#111" stroke-width="0.35">20</text>
<line x1="25.8" y1="894.0" x2="37.0" y2="894.0" stroke="#111" stroke-width="2"/>
<text x="24.0" y="984.8" font-size="21" text-anchor="end" font-weight="normal" fill="#111" stroke="#111" stroke-width="0.35">50</text>
<line x1="25.8" y1="978.9" x2="37.0" y2="978.9" stroke="#111" stroke-width="2"/>
<text x="24.0" y="1034.3" font-size="21" text-anchor="end" font-weight="normal" fill="#111" stroke="#111" stroke-width="0.35">37</text>
<line x1="25.8" y1="1030.3" x2="37.0" y2="1030.3" stroke="#111" stroke-width="2"/>
<line x1="551.0" y1="833.1" x2="561.0" y2="833.1" stroke="#111" stroke-width="2"/>
<text x="565.0" y="840.9" font-size="26" text-anchor="start" font-weight="normal" fill="#111" stroke="#111" stroke-width="0.35">P-cofilin</text>
<text x="565.0" y="871.7" font-size="26" text-anchor="start" font-weight="normal" fill="#111" stroke="#111" stroke-width="0.35">(Ser3)</text>
<line x1="551.0" y1="912.5" x2="561.0" y2="912.5" stroke="#111" stroke-width="2"/>
<text x="565.0" y="919.1" font-size="26" text-anchor="start" font-weight="normal" fill="#111" stroke="#111" stroke-width="0.35">Total cofilin</text>
<line x1="551.0" y1="979.7" x2="561.0" y2="979.7" stroke="#111" stroke-width="2"/>
<text x="564.5" y="983.0" font-size="26" text-anchor="start" font-weight="normal" fill="#111" stroke="#111" stroke-width="0.35">α-tubulin</text>
<line x1="551.0" y1="1011.0" x2="561.0" y2="1011.0" stroke="#111" stroke-width="2"/>
<text x="564.5" y="1016.0" font-size="26" text-anchor="start" font-weight="normal" fill="#111" stroke="#111" stroke-width="0.35">β-actin</text>
<line x1="551.0" y1="1034.8" x2="561.0" y2="1034.8" stroke="#111" stroke-width="2"/>
<text x="565.0" y="1042.5" font-size="26" text-anchor="start" font-weight="normal" fill="#111" stroke="#111" stroke-width="0.35">GAPDH</text>
<line x1="844.3" y1="702.5" x2="844.3" y2="1033.3" stroke="#111" stroke-width="2.2"/>
<line x1="833.3" y1="1032.3" x2="1063.0" y2="1032.3" stroke="#111" stroke-width="2.2"/>
<line x1="833.3" y1="1032.3" x2="844.3" y2="1032.3" stroke="#111" stroke-width="2"/>
<text x="827.3" y="1038.0" font-size="23" text-anchor="end" font-weight="normal" fill="#111" stroke="#111" stroke-width="0.35">0.00</text>
<line x1="833.3" y1="966.6" x2="844.3" y2="966.6" stroke="#111" stroke-width="2"/>
<text x="827.3" y="972.3" font-size="23" text-anchor="end" font-weight="normal" fill="#111" stroke="#111" stroke-width="0.35">0.25</text>
<line x1="833.3" y1="900.8" x2="844.3" y2="900.8" stroke="#111" stroke-width="2"/>
<text x="827.3" y="906.6" font-size="23" text-anchor="end" font-weight="normal" fill="#111" stroke="#111" stroke-width="0.35">0.50</text>
<line x1="833.3" y1="835.1" x2="844.3" y2="835.1" stroke="#111" stroke-width="2"/>
<text x="827.3" y="840.9" font-size="23" text-anchor="end" font-weight="normal" fill="#111" stroke="#111" stroke-width="0.35">0.75</text>
<line x1="833.3" y1="769.4" x2="844.3" y2="769.4" stroke="#111" stroke-width="2"/>
<text x="827.3" y="775.1" font-size="23" text-anchor="end" font-weight="normal" fill="#111" stroke="#111" stroke-width="0.35">1.00</text>
<line x1="833.3" y1="703.7" x2="844.3" y2="703.7" stroke="#111" stroke-width="2"/>
<text x="827.3" y="709.4" font-size="23" text-anchor="end" font-weight="normal" fill="#111" stroke="#111" stroke-width="0.35">1.25</text>
<line x1="868.4" y1="762.8" x2="868.4" y2="769.4" stroke="#111" stroke-width="2"/>
<line x1="861.4" y1="762.8" x2="875.4" y2="762.8" stroke="#111" stroke-width="2"/>
<rect x="856.4" y="769.4" width="24.1" height="262.9" fill="#7f7f7f"/>
<line x1="892.5" y1="828.0" x2="892.5" y2="862.7" stroke="#111" stroke-width="2"/>
<line x1="885.5" y1="828.0" x2="899.5" y2="828.0" stroke="#111" stroke-width="2"/>
<rect x="880.5" y="862.7" width="24.1" height="169.6" fill="#3c6fbb"/>
<line x1="942.0" y1="744.7" x2="942.0" y2="769.4" stroke="#111" stroke-width="2"/>
<line x1="935.0" y1="744.7" x2="949.0" y2="744.7" stroke="#111" stroke-width="2"/>
<rect x="930.0" y="769.4" width="24.1" height="262.9" fill="#7f7f7f"/>
<line x1="966.1" y1="884.3" x2="966.1" y2="900.1" stroke="#111" stroke-width="2"/>
<line x1="959.1" y1="884.3" x2="973.1" y2="884.3" stroke="#111" stroke-width="2"/>
<rect x="954.1" y="900.1" width="24.1" height="132.2" fill="#3c6fbb"/>
<line x1="1015.0" y1="748.1" x2="1015.0" y2="769.4" stroke="#111" stroke-width="2"/>
<line x1="1008.0" y1="748.1" x2="1022.0" y2="748.1" stroke="#111" stroke-width="2"/>
<rect x="1003.0" y="769.4" width="24.1" height="262.9" fill="#7f7f7f"/>
<line x1="1039.1" y1="939.8" x2="1039.1" y2="955.0" stroke="#111" stroke-width="2"/>
<line x1="1032.1" y1="939.8" x2="1046.1" y2="939.8" stroke="#111" stroke-width="2"/>
<rect x="1027.1" y="955.0" width="24.1" height="77.3" fill="#3c6fbb"/>
<line x1="867.2" y1="727.9" x2="895.4" y2="727.9" stroke="#111" stroke-width="2"/>
<text x="881.3" y="731.0" font-size="34" text-anchor="middle" font-weight="normal" fill="#111" stroke="#111" stroke-width="0.6">*</text>
<line x1="942.0" y1="727.9" x2="970.0" y2="727.9" stroke="#111" stroke-width="2"/>
<text x="956.0" y="731.0" font-size="34" text-anchor="middle" font-weight="normal" fill="#111" stroke="#111" stroke-width="0.6">***</text>
<line x1="1014.5" y1="727.9" x2="1042.7" y2="727.9" stroke="#111" stroke-width="2"/>
<text x="1028.6" y="731.0" font-size="34" text-anchor="middle" font-weight="normal" fill="#111" stroke="#111" stroke-width="0.6">***</text>
<rect x="856.2" y="631.0" width="34.8" height="20.0" fill="#7f7f7f"/>
<rect x="856.2" y="667.0" width="34.8" height="19.5" fill="#3c6fbb"/>
<text x="900.0" y="650.0" font-size="25.5" text-anchor="start" font-weight="normal" fill="#111" stroke="#111" stroke-width="0.35">DMSO</text>
<text x="900.0" y="686.0" font-size="25.2" text-anchor="start" font-weight="normal" fill="#111" stroke="#111" stroke-width="0.35">1 μM MLN4924</text>
<text x="735.5" y="866.5" font-size="25" text-anchor="middle" font-weight="normal" fill="#111" stroke="#111" stroke-width="0.35" transform="rotate(-90 735.5 866.5)">P-cofilin/total cofilin</text>
<text x="766.6" y="866.4" font-size="25.3" text-anchor="middle" font-weight="normal" fill="#111" stroke="#111" stroke-width="0.35" transform="rotate(-90 766.6 866.4)">(normalized to DMSO)</text>
<text x="888.0" y="1053.3" font-size="24.5" text-anchor="end" font-weight="normal" fill="#111" stroke="#111" stroke-width="0.35" transform="rotate(-45 888.0 1053.3)">8 h</text>
<text x="961.4" y="1053.3" font-size="24.5" text-anchor="end" font-weight="normal" fill="#111" stroke="#111" stroke-width="0.35" transform="rotate(-45 961.4 1053.3)">12 h</text>
<text x="1034.3" y="1053.3" font-size="24.5" text-anchor="end" font-weight="normal" fill="#111" stroke="#111" stroke-width="0.35" transform="rotate(-45 1034.3 1053.3)">24 h</text>
<text x="1134.0" y="645.0" font-size="40" text-anchor="start" font-weight="bold" fill="#111">c</text>
<text x="1395.0" y="643.0" font-size="26" text-anchor="middle" font-weight="normal" fill="#111" stroke="#111" stroke-width="0.35">Rat cortical neurons DIV0–7</text>
<line x1="1180.6" y1="655.0" x2="1609.6" y2="655.0" stroke="#111" stroke-width="2"/>
<text x="1374.5" y="683.7" font-size="26" fill="#111" stroke="#111" stroke-width="0.35">Cofilin<tspan font-size="15" dy="-10.5" stroke-width="0.2">BIO-HA</tspan></text>
<line x1="1267.0" y1="692.6" x2="1607.8" y2="692.6" stroke="#111" stroke-width="2"/>
<text x="1224.0" y="726.0" font-size="25" text-anchor="middle" font-weight="normal" fill="#111" stroke="#111" stroke-width="0.35">not-</text>
<text x="1223.5" y="756.4" font-size="25" text-anchor="middle" font-weight="normal" fill="#111" stroke="#111" stroke-width="0.35">transf.</text>
<line x1="1189.8" y1="764.4" x2="1256.6" y2="764.4" stroke="#111" stroke-width="2"/>
<text x="1280.5" y="771.0" font-size="26" text-anchor="start" font-weight="normal" fill="#111" stroke="#111" stroke-width="0.35" transform="rotate(-50 1280.5 771.0)">WT</text>
<text x="1320.7" y="771.0" font-size="26" text-anchor="start" font-weight="normal" fill="#111" stroke="#111" stroke-width="0.35" transform="rotate(-50 1320.7 771.0)">K112R</text>
<text x="1361.0" y="771.0" font-size="26" text-anchor="start" font-weight="normal" fill="#111" stroke="#111" stroke-width="0.35" transform="rotate(-50 1361.0 771.0)">WT</text>
<text x="1401.3" y="771.0" font-size="26" text-anchor="start" font-weight="normal" fill="#111" stroke="#111" stroke-width="0.35" transform="rotate(-50 1401.3 771.0)">K112R</text>
<text x="1440.4" y="771.0" font-size="26" text-anchor="start" font-weight="normal" fill="#111" stroke="#111" stroke-width="0.35" transform="rotate(-50 1440.4 771.0)">WT</text>
<text x="1480.7" y="771.0" font-size="26" text-anchor="start" font-weight="normal" fill="#111" stroke="#111" stroke-width="0.35" transform="rotate(-50 1480.7 771.0)">K112R</text>
<text x="1522.0" y="771.0" font-size="26" text-anchor="start" font-weight="normal" fill="#111" stroke="#111" stroke-width="0.35" transform="rotate(-50 1522.0 771.0)">WT</text>
<text x="1563.3" y="771.0" font-size="26" text-anchor="start" font-weight="normal" fill="#111" stroke="#111" stroke-width="0.35" transform="rotate(-50 1563.3 771.0)">K112R</text>
<rect x="1178.7" y="773.8" width="429.0" height="57.6" fill="#f9f9f9"/>
<rect x="1270.5" y="799.8" width="34.0" height="8.5" rx="15.5" ry="4.2" fill="#000" fill-opacity="0.750" filter="url(#f18)"/>
<rect x="1310.7" y="799.8" width="34.0" height="8.5" rx="15.5" ry="4.2" fill="#000" fill-opacity="0.250" filter="url(#f18)"/>
<rect x="1351.0" y="799.8" width="34.0" height="8.5" rx="15.5" ry="4.2" fill="#000" fill-opacity="0.950" filter="url(#f18)"/>
<rect x="1391.3" y="799.8" width="34.0" height="8.5" rx="15.5" ry="4.2" fill="#000" fill-opacity="0.200" filter="url(#f18)"/>
<rect x="1430.4" y="801.8" width="34.0" height="8.5" rx="15.5" ry="4.2" fill="#000" fill-opacity="0.750" filter="url(#f18)"/>
<rect x="1470.7" y="801.8" width="34.0" height="8.5" rx="15.5" ry="4.2" fill="#000" fill-opacity="0.220" filter="url(#f18)"/>
<rect x="1512.0" y="799.8" width="34.0" height="8.5" rx="15.5" ry="4.2" fill="#000" fill-opacity="0.950" filter="url(#f18)"/>
<rect x="1553.3" y="799.8" width="34.0" height="8.5" rx="15.5" ry="4.2" fill="#000" fill-opacity="0.150" filter="url(#f18)"/>
<rect x="1178.7" y="840.0" width="429.0" height="56.7" fill="#f8f8f8"/>
<rect x="1270.5" y="869.2" width="34.0" height="8.5" rx="15.5" ry="4.2" fill="#000" fill-opacity="0.920" filter="url(#f18)"/>
<rect x="1310.7" y="869.2" width="34.0" height="8.5" rx="15.5" ry="4.2" fill="#000" fill-opacity="0.880" filter="url(#f18)"/>
<rect x="1351.0" y="867.2" width="34.0" height="8.5" rx="15.5" ry="4.2" fill="#000" fill-opacity="0.950" filter="url(#f18)"/>
<rect x="1391.3" y="869.2" width="34.0" height="8.5" rx="15.5" ry="4.2" fill="#000" fill-opacity="0.600" filter="url(#f18)"/>
<rect x="1430.4" y="867.2" width="34.0" height="8.5" rx="15.5" ry="4.2" fill="#000" fill-opacity="0.800" filter="url(#f18)"/>
<rect x="1470.7" y="869.2" width="34.0" height="8.5" rx="15.5" ry="4.2" fill="#000" fill-opacity="0.500" filter="url(#f18)"/>
<rect x="1512.0" y="869.2" width="34.0" height="8.5" rx="15.5" ry="4.2" fill="#000" fill-opacity="1.000" filter="url(#f18)"/>
<rect x="1553.3" y="869.2" width="34.0" height="8.5" rx="15.5" ry="4.2" fill="#000" fill-opacity="0.700" filter="url(#f18)"/>
<rect x="1178.0" y="909.0" width="429.7" height="80.3" fill="#f5f5f5"/>
<rect x="1182.0" y="931.2" width="36.8" height="10.5" rx="16.7" ry="5.2" fill="#000" fill-opacity="0.400" filter="url(#f20)"/>
<rect x="1182.0" y="961.5" width="36.8" height="9.0" rx="16.7" ry="4.5" fill="#000" fill-opacity="0.900" filter="url(#f16)"/>
<rect x="1225.8" y="931.2" width="36.8" height="10.5" rx="16.7" ry="5.2" fill="#000" fill-opacity="0.400" filter="url(#f20)"/>
<rect x="1225.8" y="961.5" width="36.8" height="9.0" rx="16.7" ry="4.5" fill="#000" fill-opacity="0.880" filter="url(#f16)"/>
<rect x="1268.3" y="931.2" width="36.8" height="10.5" rx="16.7" ry="5.2" fill="#000" fill-opacity="0.420" filter="url(#f20)"/>
<rect x="1268.3" y="961.5" width="36.8" height="9.0" rx="16.7" ry="4.5" fill="#000" fill-opacity="0.800" filter="url(#f16)"/>
<rect x="1309.6" y="931.2" width="36.8" height="10.5" rx="16.7" ry="5.2" fill="#000" fill-opacity="0.420" filter="url(#f20)"/>
<rect x="1309.6" y="961.5" width="36.8" height="9.0" rx="16.7" ry="4.5" fill="#000" fill-opacity="0.880" filter="url(#f16)"/>
<rect x="1351.1" y="931.2" width="36.8" height="10.5" rx="16.7" ry="5.2" fill="#000" fill-opacity="0.400" filter="url(#f20)"/>
<rect x="1351.1" y="961.5" width="36.8" height="9.0" rx="16.7" ry="4.5" fill="#000" fill-opacity="0.800" filter="url(#f16)"/>
<rect x="1392.6" y="931.2" width="36.8" height="10.5" rx="16.7" ry="5.2" fill="#000" fill-opacity="0.520" filter="url(#f20)"/>
<rect x="1392.6" y="961.5" width="36.8" height="9.0" rx="16.7" ry="4.5" fill="#000" fill-opacity="0.980" filter="url(#f16)"/>
<rect x="1432.6" y="931.2" width="36.8" height="10.5" rx="16.7" ry="5.2" fill="#000" fill-opacity="0.500" filter="url(#f20)"/>
<rect x="1432.6" y="961.5" width="36.8" height="9.0" rx="16.7" ry="4.5" fill="#000" fill-opacity="0.980" filter="url(#f16)"/>
<rect x="1474.1" y="931.2" width="36.8" height="10.5" rx="16.7" ry="5.2" fill="#000" fill-opacity="0.550" filter="url(#f20)"/>
<rect x="1474.1" y="961.5" width="36.8" height="9.0" rx="16.7" ry="4.5" fill="#000" fill-opacity="1.000" filter="url(#f16)"/>
<rect x="1516.6" y="931.2" width="36.8" height="10.5" rx="16.7" ry="5.2" fill="#000" fill-opacity="0.500" filter="url(#f20)"/>
<rect x="1516.6" y="961.5" width="36.8" height="9.0" rx="16.7" ry="4.5" fill="#000" fill-opacity="0.950" filter="url(#f16)"/>
<rect x="1561.6" y="931.2" width="36.8" height="10.5" rx="16.7" ry="5.2" fill="#000" fill-opacity="0.550" filter="url(#f20)"/>
<rect x="1561.6" y="961.5" width="36.8" height="9.0" rx="16.7" ry="4.5" fill="#000" fill-opacity="1.000" filter="url(#f16)"/>
<text x="1158.0" y="824.8" font-size="21" text-anchor="end" font-weight="normal" fill="#111" stroke="#111" stroke-width="0.35">25</text>
<line x1="1162.2" y1="820.6" x2="1173.9" y2="820.6" stroke="#111" stroke-width="2"/>
<text x="1158.0" y="892.5" font-size="21" text-anchor="end" font-weight="normal" fill="#111" stroke="#111" stroke-width="0.35">25</text>
<line x1="1162.2" y1="888.0" x2="1173.9" y2="888.0" stroke="#111" stroke-width="2"/>
<text x="1158.0" y="943.1" font-size="21" text-anchor="end" font-weight="normal" fill="#111" stroke="#111" stroke-width="0.35">50</text>
<line x1="1162.2" y1="939.7" x2="1173.9" y2="939.7" stroke="#111" stroke-width="2"/>
<line x1="1616.2" y1="804.7" x2="1626.2" y2="804.7" stroke="#111" stroke-width="2"/>
<text x="1632" y="810.5" font-size="25.5" fill="#111" stroke="#111" stroke-width="0.35">P-cofilin<tspan font-size="15" dy="-10" stroke-width="0.2">BIO-HA</tspan></text>
<text x="1632.0" y="841.3" font-size="26" text-anchor="start" font-weight="normal" fill="#111" stroke="#111" stroke-width="0.35">(Ser3)</text>
<line x1="1616.2" y1="874.5" x2="1626.2" y2="874.5" stroke="#111" stroke-width="2"/>
<text x="1632" y="880.7" font-size="26" fill="#111" stroke="#111" stroke-width="0.35">Total cofilin<tspan font-size="15" dy="-10" stroke-width="0.2">BIO-HA</tspan></text>
<line x1="1616.2" y1="935.2" x2="1626.2" y2="935.2" stroke="#111" stroke-width="2"/>
<text x="1632.0" y="940.0" font-size="26" text-anchor="start" font-weight="normal" fill="#111" stroke="#111" stroke-width="0.35">α-tubulin</text>
<line x1="1616.2" y1="966.0" x2="1626.2" y2="966.0" stroke="#111" stroke-width="2"/>
<text x="1632.0" y="971.9" font-size="26" text-anchor="start" font-weight="normal" fill="#111" stroke="#111" stroke-width="0.35">β-actin</text>
<line x1="1942.4" y1="658.6" x2="1942.4" y2="917.7" stroke="#111" stroke-width="2.2"/>
<line x1="1933.5" y1="916.7" x2="2114.0" y2="916.7" stroke="#111" stroke-width="2.2"/>
<line x1="1933.5" y1="916.7" x2="1942.4" y2="916.7" stroke="#111" stroke-width="2"/>
<text x="1929.1" y="920.2" font-size="23" text-anchor="end" font-weight="normal" fill="#111" stroke="#111" stroke-width="0.35">0.0</text>
<line x1="1933.5" y1="831.0" x2="1942.4" y2="831.0" stroke="#111" stroke-width="2"/>
<text x="1929.1" y="834.5" font-size="23" text-anchor="end" font-weight="normal" fill="#111" stroke="#111" stroke-width="0.35">0.5</text>
<line x1="1933.5" y1="745.3" x2="1942.4" y2="745.3" stroke="#111" stroke-width="2"/>
<text x="1929.1" y="748.8" font-size="23" text-anchor="end" font-weight="normal" fill="#111" stroke="#111" stroke-width="0.35">1.0</text>
<line x1="1933.5" y1="659.6" x2="1942.4" y2="659.6" stroke="#111" stroke-width="2"/>
<text x="1929.1" y="663.1" font-size="23" text-anchor="end" font-weight="normal" fill="#111" stroke="#111" stroke-width="0.35">1.5</text>
<rect x="1967.0" y="745.3" width="48.4" height="171.4" fill="#7f7f7f"/>
<rect x="2040.3" y="837.4" width="48.3" height="79.3" fill="#951b57"/>
<line x1="1991.2" y1="728.5" x2="1991.2" y2="762.6" stroke="#111" stroke-width="2"/>
<line x1="1978.7" y1="728.5" x2="2003.7" y2="728.5" stroke="#111" stroke-width="2"/>
<line x1="1978.7" y1="762.6" x2="2003.7" y2="762.6" stroke="#111" stroke-width="2"/>
<line x1="2065.0" y1="826.5" x2="2065.0" y2="846.6" stroke="#111" stroke-width="2"/>
<line x1="2052.5" y1="826.5" x2="2077.5" y2="826.5" stroke="#111" stroke-width="2"/>
<line x1="2052.5" y1="846.6" x2="2077.5" y2="846.6" stroke="#111" stroke-width="2"/>
<circle cx="1991.2" cy="705.6" r="5.2" fill="#111"/>
<circle cx="1991.2" cy="733.9" r="5.2" fill="#111"/>
<circle cx="1991.2" cy="757.5" r="5.2" fill="#111"/>
<circle cx="1991.2" cy="785.8" r="5.2" fill="#111"/>
<circle cx="2057" cy="815.3" r="5.2" fill="#111"/>
<circle cx="2072.4" cy="825.6" r="5.2" fill="#111"/>
<circle cx="2057" cy="855.5" r="5.2" fill="#111"/>
<circle cx="2072.2" cy="852" r="5.2" fill="#111"/>
<line x1="1988.7" y1="673.8" x2="2061.4" y2="673.8" stroke="#111" stroke-width="2"/>
<text x="2025.0" y="674.0" font-size="34" text-anchor="middle" font-weight="normal" fill="#111" stroke="#111" stroke-width="0.6">**</text>
<text x="1850.5" y="782.4" font-size="24.8" text-anchor="middle" font-weight="normal" fill="#111" stroke="#111" stroke-width="0.35" transform="rotate(-90 1850.5 782.4)">P-cofilin/total cofilin</text>
<text x="1879.7" y="781.2" font-size="25.5" text-anchor="middle" font-weight="normal" fill="#111" stroke="#111" stroke-width="0.35" transform="rotate(-90 1879.7 781.2)">(normalized to WT)</text>
<text x="2002.7" y="938.8" font-size="25" text-anchor="end" font-weight="normal" fill="#111" stroke="#111" stroke-width="0.35" transform="rotate(-45 2002.7 938.8)">WT</text>
<text x="2080.5" y="940.5" font-size="25" text-anchor="end" font-weight="normal" fill="#111" stroke="#111" stroke-width="0.35" transform="rotate(-45 2080.5 940.5)">K112R</text>
</svg>
</body></html>
